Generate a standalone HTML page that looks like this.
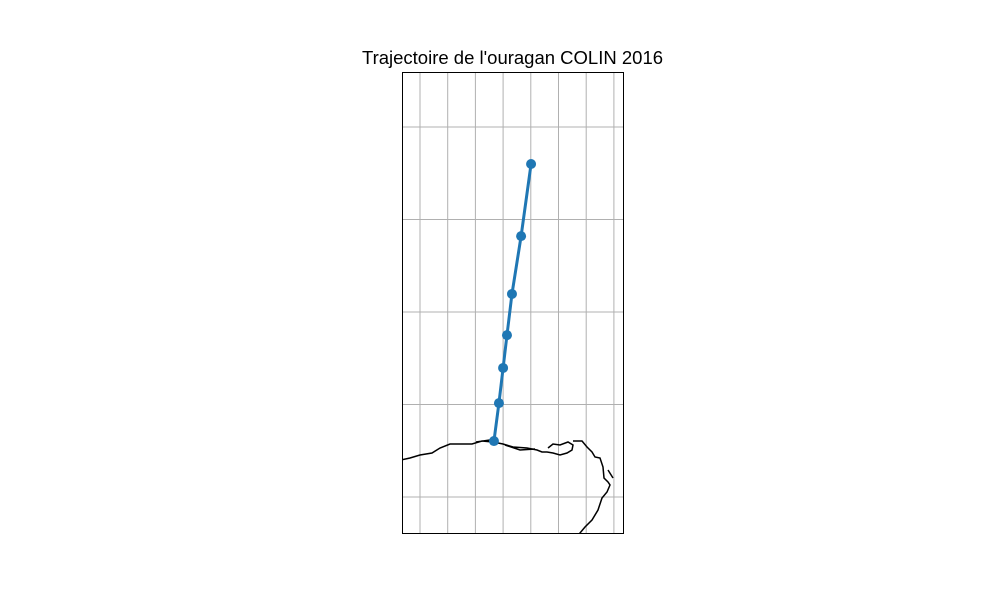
<!DOCTYPE html>
<html><head><meta charset="utf-8"><style>
body{margin:0;background:#fff;font-family:"Liberation Sans",sans-serif}
</style></head><body>
<svg id="chart" width="1000" height="600" xmlns="http://www.w3.org/2000/svg">
<rect width="1000" height="600" fill="#fff"/>
<text x="512.5" y="64" text-anchor="middle" font-size="18.5" font-family="Liberation Sans, sans-serif">Trajectoire de l'ouragan COLIN 2016</text>
<defs><clipPath id="clip"><rect x="402" y="72" width="221" height="462"/></clipPath></defs>
<g id="grid"></g>
<path clip-path="url(#clip)" fill="none" stroke="#000" stroke-width="1.5" d="M401,460 L410,458 L420,455 L432,453 L440,448 L450,444 L462,444 L472,444 L482,441 L493,442 L503,444 L513,447 L527,448 L537,450 L542,452 L547,452 L553,453 L560,455 L567,453 L572,450 L573,445 L568,442 L560,445 L553,444 L548,448 M573,441 L582,441 L587,447 L592,452 L595,457 L600,458 L603,467 L604,478 L608,482 L610,485 L607,492 L602,498 L598,510 L592,520 L585,527 L580,533 L577,536 M608,470 L613,478 M476,442 L490,440 M505,445 L520,450 L535,449"/>
<g id="track"></g>
<rect x="402.5" y="72.5" width="221" height="461" fill="none" stroke="#000" stroke-width="1"/>
</svg>
<script>
const lonTicks=[-80,-79,-78,-77,-76,-75,-74,-73];
const latTicks=[30,32,34,36,38];
const trackLon=[-77.33,-77.15,-77.00,-76.86,-76.68,-76.35,-75.99];
const trackLat=[31.21,32.03,32.79,33.50,34.39,35.64,37.20];
const X=lon=>420+(lon+80)*27.7;
const Y=lat=>497-(lat-30)*46.25;
const NS='http://www.w3.org/2000/svg';
const grid=document.getElementById('grid');
lonTicks.forEach(l=>{const e=document.createElementNS(NS,'line');


e.setAttribute('x1',X(l));e.setAttribute('x2',X(l));e.setAttribute('y1',72);e.setAttribute('y2',534);e.setAttribute('stroke','#b0b0b0');e.setAttribute('stroke-width','1');grid.appendChild(e);});
latTicks.forEach(l=>{const e=document.createElementNS(NS,'line');


e.setAttribute('x1',402);e.setAttribute('x2',623);e.setAttribute('y1',Y(l));e.setAttribute('y2',Y(l));e.setAttribute('stroke','#b0b0b0');e.setAttribute('stroke-width','1');grid.appendChild(e);});
const tr=document.getElementById('track');
const pl=document.createElementNS(NS,'polyline');


pl.setAttribute('points',trackLon.map((l,i)=>X(l)+','+Y(trackLat[i])).join(' '));
pl.setAttribute('fill','none');pl.setAttribute('stroke','#1f77b4');pl.setAttribute('stroke-width','3');tr.appendChild(pl);
trackLon.forEach((l,i)=>{const c=document.createElementNS(NS,'circle');


c.setAttribute('cx',X(l));c.setAttribute('cy',Y(trackLat[i]));c.setAttribute('r','5');c.setAttribute('fill','#1f77b4');tr.appendChild(c);});
</script>
</body></html>
